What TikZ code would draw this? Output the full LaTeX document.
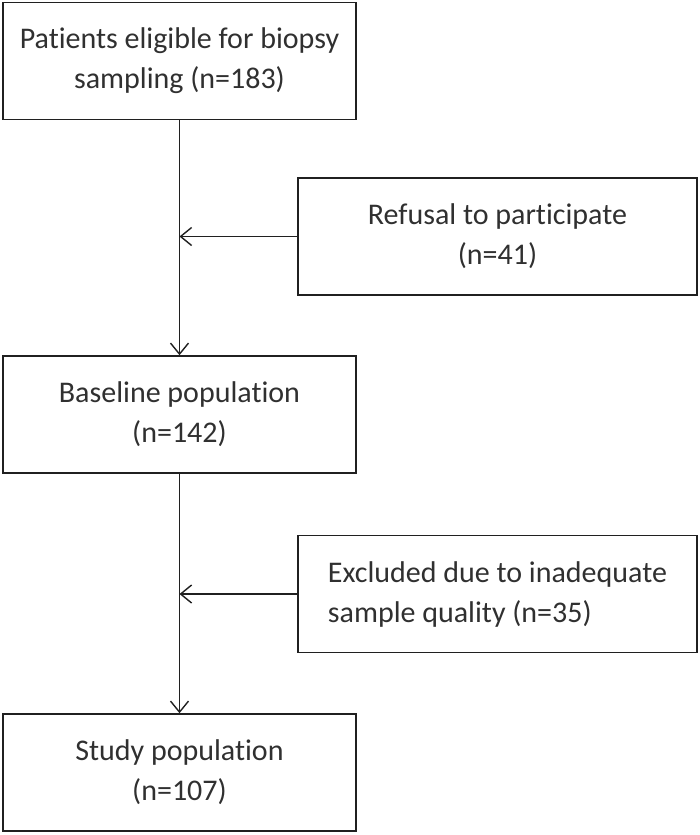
\documentclass[tikz,border=0pt]{standalone}
\usepackage{fontspec}
\setmainfont[Ligatures={NoCommon,NoContextual}]{Carlito}
\usetikzlibrary{arrows.meta}
\definecolor{ln}{HTML}{202020}
\definecolor{tx}{HTML}{303030}
\begin{document}
\begin{tikzpicture}[x=1pt,y=-1pt,
  box/.style={draw=ln,line width=1.6pt,inner sep=0pt,text=tx,
    font=\fontsize{30}{40}\selectfont,align=center},
  lbox/.style={box,minimum width=353pt,minimum height=117pt},
  rbox/.style={box,minimum width=399pt,minimum height=117pt},
  conn/.style={draw=ln,line width=1.4pt,-{Straight Barb[length=11pt,width=18pt,line width=1.4pt]}}]
\useasboundingbox (0,0) rectangle (700,835);
\node[lbox] (b1) at (179.5,61) {Patients eligible for biopsy\\sampling (n=183)};
\node[rbox] (b2) at (497.5,236.5) {Refusal to participate\\(n=41)};
\node[lbox] (b3) at (179.5,414.5) {Baseline population\\(n=142)};
\node[rbox,align=left] (b4) at (497.5,594) {Excluded due to inadequate\\sample quality (n=35)};
\node[lbox] (b5) at (179.5,772.5) {Study population\\(n=107)};
\draw[conn] (b1.south) -- (b3.north);
\draw[conn] (b3.south) -- (b5.north);
\draw[conn] (b2.west) -- (b2.west -| b1.south);
\draw[conn] (b4.west) -- (b4.west -| b3.south);
\end{tikzpicture}
\end{document}
